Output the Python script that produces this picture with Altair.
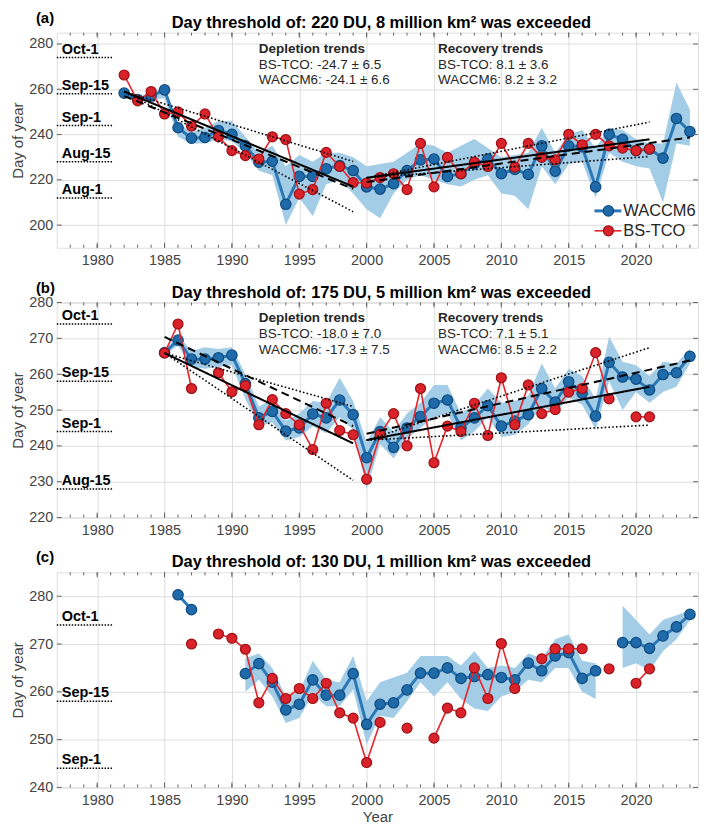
import altair as alt
import pandas as pd

FONT = "Liberation Sans"
W, H = 644, 216

X_TICKS = [1980, 1985, 1990, 1995, 2000, 2005, 2010, 2015, 2020]
MINOR_YEARS = list(range(1978, 2025))

# ---------------- panel (a) ----------------
YEARS_A = list(range(1982, 2025))
WACCM_A = [258.3, 255.5, 257.0, 259.7, 243.0, 238.4, 238.7, 241.8, 240.1, 235.0,
           227.8, 228.2, 209.2, 221.5, 221.5, 224.9, 226.3, 224.1, 216.9, 215.9,
           218.3, 224.1, 228.8, 229.2, 221.5, 222.7, 227.0, 229.2, 222.7, 224.6,
           222.4, 235.0, 223.8, 235.0, 234.6, 216.9, 240.1, 237.9, 232.9, 233.6,
           229.6, 247.1, 241.3]
BSTCO_A = [266.3, 254.9, 259.0, 249.1, 250.0, 243.7, 249.1, 239.0, 232.9, 230.7,
           229.2, 239.0, 237.8, 213.7, 215.7, 232.1, 225.9, 218.8, 218.6, 221.0,
           222.7, 215.7, 236.1, 216.9, 229.9, 222.7, 227.8, 225.9, 236.1, 225.6,
           236.1, 229.9, 228.8, 240.1, 235.5, 240.1, 235.0, 234.0, 232.9, 233.6,
           None, None, None]
LO_A = [257.0, 254.5, 255.5, 256.0, 239.0, 236.0, 236.0, 238.0, 237.0, 232.0,
        224.0, 222.0, 200.0, 212.0, 204.0, 218.0, 220.0, 214.0, 207.0, 203.0,
        214.0, 220.0, 222.0, 220.0, 218.0, 217.0, 220.0, 222.0, 214.0, 213.0,
        207.0, 226.0, 218.0, 227.0, 228.0, 212.0, 232.0, 228.0, 226.0, 225.0,
        210.0, 236.0, 235.0]
HI_A = [259.5, 256.5, 258.5, 261.0, 245.0, 241.0, 243.0, 246.0, 246.0, 239.0,
        232.0, 235.0, 226.0, 231.0, 228.0, 232.0, 232.0, 230.0, 226.0, 227.0,
        228.0, 232.0, 236.0, 235.0, 232.0, 235.0, 238.0, 234.0, 230.0, 231.0,
        232.0, 243.0, 232.0, 240.0, 242.0, 234.0, 243.0, 242.0, 238.0, 236.0,
        236.0, 263.0, 251.0]
# trend segments: style, start year, end year, start value, end value
TREND_STYLE_A = ["solid", "dashed", "dotted", "dotted", "solid", "dashed", "dotted", "dotted"]
TREND_X0_A = [1982, 1982, 1982, 1982, 2000, 2000, 2000, 2000]
TREND_X1_A = [1999, 1999, 1999, 1999, 2021, 2024, 2021, 2021]
TREND_Y0_A = [259.0, 257.0, 259.0, 259.0, 220.9, 219.0, 220.9, 220.9]
TREND_Y1_A = [217.0, 216.0, 228.1, 205.9, 237.9, 238.7, 245.5, 230.3]
DEPL_A = ["Depletion trends", "BS-TCO: -24.7 \u00b1 6.5", "WACCM6: -24.1 \u00b1 6.6"]
RECO_A = ["Recovery trends", "BS-TCO: 8.1 \u00b1 3.6", "WACCM6: 8.2 \u00b1 3.2"]
DATES_A = ["Oct-1", "Sep-15", "Sep-1", "Aug-15", "Aug-1"]
DOY_A = [274, 258, 244, 228, 212]

# ---------------- panel (b) ----------------
YEARS_B = list(range(1985, 2025))
WACCM_B = [266.0, 269.5, 264.2, 264.2, 264.6, 265.3, 257.4, 247.8, 249.6, 244.1,
           245.0, 248.9, 247.8, 252.8, 248.7, 236.7, 244.0, 239.6, 245.0, 248.2,
           251.9, 252.8, 245.0, 247.8, 251.2, 245.5, 246.9, 248.7, 256.0, 252.2,
           257.9, 254.7, 248.3, 263.3, 259.2, 258.6, 255.6, 259.9, 260.4, 265.0]
BSTCO_B = [265.9, 274.0, 256.0, None, 260.4, 255.1, 256.8, 245.9, 252.9, 249.0,
           245.9, 239.0, 251.9, 244.3, 243.1, 230.7, 243.2, 249.0, 240.0, 256.0,
           235.3, 245.5, 244.0, 251.9, 242.9, 259.0, 245.9, 257.0, 249.0, 250.1,
           255.0, 256.0, 266.0, 253.1, None, 248.1, 248.1, None, None, None]
LO_B = [265.3, 268.0, 262.0, 261.5, 262.0, 262.5, 253.0, 245.5, 246.5, 241.5,
        242.5, 245.5, 243.5, 248.0, 244.5, 228.0, 240.5, 236.5, 242.0, 245.0,
        248.0, 249.0, 241.5, 244.0, 248.0, 242.5, 243.0, 246.0, 251.0, 249.0,
        253.5, 251.5, 244.5, 258.0, 250.0, 255.0, 252.0, 255.0, 256.5, 263.0]
HI_B = [266.7, 271.0, 266.5, 267.5, 267.0, 267.5, 260.0, 251.0, 253.0, 247.0,
        249.0, 252.5, 252.0, 259.0, 252.5, 241.0, 248.0, 244.0, 249.0, 252.0,
        257.0, 257.0, 249.0, 251.5, 256.0, 252.0, 252.5, 254.0, 263.0, 256.0,
        261.5, 259.5, 253.0, 270.5, 263.5, 262.5, 259.5, 263.5, 263.0, 267.0]
TREND_STYLE_B = ["solid", "dashed", "dotted", "dotted", "solid", "dashed", "dotted", "dotted"]
TREND_X0_B = [1985, 1985, 1985, 1985, 2000, 2000, 2000, 2000]
TREND_X1_B = [1999, 1999, 1999, 1999, 2021, 2024, 2021, 2021]
TREND_Y0_B = [265.9, 270.4, 265.9, 265.9, 241.6, 243.4, 241.6, 241.6]
TREND_Y1_B = [240.7, 245.5, 251.0, 230.4, 256.5, 263.8, 267.4, 245.8]
DEPL_B = ["Depletion trends", "BS-TCO: -18.0 \u00b1 7.0", "WACCM6: -17.3 \u00b1 7.5"]
RECO_B = ["Recovery trends", "BS-TCO: 7.1 \u00b1 5.1", "WACCM6: 8.5 \u00b1 2.2"]
DATES_B = ["Oct-1", "Sep-15", "Sep-1", "Aug-15"]
DOY_B = [274, 258, 244, 228]

# ---------------- panel (c) ----------------
YEARS_C = list(range(1986, 2025))
WACCM_C = [280.3, 277.2, None, None, None, 263.8, 265.9, 262.0, 256.2, 257.4,
           262.5, 259.3, 259.3, 263.8, 253.2, 257.4, 257.7, 260.4, 263.9, 263.9,
           265.0, 262.8, 263.2, 263.6, 263.0, 262.5, 266.0, 264.4, 267.5, 268.2,
           262.8, 264.4, None, 270.3, 270.3, 269.1, 271.7, 273.6, 276.2]
BSTCO_C = [None, 270.0, None, 272.1, 271.2, 268.9, 257.7, 262.8, 258.6, 260.7,
           258.6, 261.8, 255.6, 254.5, 245.2, 253.6, None, 252.4, None, 250.3,
           256.6, 255.6, 265.0, 258.6, 270.1, 260.7, None, 266.9, 269.0, 269.0,
           269.0, None, 264.8, None, 261.8, 264.8, None, None, None]
LO_C = [None, None, None, None, None, 260.0, 262.5, 259.0, 253.5, 254.5,
        259.5, 257.0, 257.0, 260.5, 249.0, 255.0, 254.5, 258.0, 262.0, 259.0,
        262.0, 258.5, 256.5, 256.0, 259.0, 260.0, 262.5, 262.0, 265.0, 265.0,
        260.0, 258.5, None, 265.0, 266.0, 264.5, 268.5, 271.0, 275.0]
HI_C = [None, None, None, None, None, 267.0, 268.0, 265.0, 259.0, 260.0,
        266.5, 262.5, 262.0, 267.5, 258.0, 262.0, 263.0, 264.0, 267.5, 267.5,
        267.5, 265.5, 268.5, 265.0, 265.5, 265.0, 268.0, 267.0, 271.0, 272.0,
        266.5, 266.0, None, 278.0, 275.0, 272.0, 275.0, 276.0, 277.0]
DATES_C = ["Oct-1", "Sep-15", "Sep-1"]
DOY_C = [274, 258, 244]

LEGEND_LABELS = ["WACCM6", "BS-TCO"]

BLUE_LINE = "#2a78b6"
BLUE_FILL = "#1f6aa8"
BLUE_EDGE = "#0e4a80"
RED_LINE = "#e4262b"
RED_FILL = "#d9222a"
RED_EDGE = "#9c1015"
BAND = "#a3cde6"
AX_GRAY = "#666666"
LBL_GRAY = "#444444"


def runs(years, *cols):
    rows, seg, prev = [], 0, False
    for vals in zip(years, *cols):
        y, rest = vals[0], vals[1:]
        if any(v is None for v in rest):
            if prev:
                seg += 1
            prev = False
            continue
        row = {"year": y, "seg": seg}
        for i, v in enumerate(rest):
            row["v%d" % i] = v
        rows.append(row)
        prev = True
    return pd.DataFrame(rows)


def panel(tag, title, years, waccm, bstco, lo, hi, ydom, yticks, dates, doys,
          trends=None, notes=None, legend=False, xtitle=None):
    xs = alt.Scale(domain=[1977, 2024.6], nice=False, zero=False)
    ys = alt.Scale(domain=ydom, nice=False, zero=False)
    xax = alt.Axis(values=X_TICKS, format="d", grid=True, ticks=False, domain=False,
                   labelFont=FONT, labelFontSize=14.5, labelColor=LBL_GRAY,
                   labelPadding=6, title=xtitle, titleFont=FONT, titleFontSize=15,
                   titleFontWeight="normal", titleColor=LBL_GRAY, titlePadding=3)
    yax = alt.Axis(values=yticks, grid=True, ticks=False, domain=False,
                   labelFont=FONT, labelFontSize=14.5, labelColor=LBL_GRAY,
                   labelPadding=4, title="Day of year", titleFont=FONT,
                   titleFontSize=15, titleFontWeight="normal", titleColor=LBL_GRAY,
                   titlePadding=3)

    def X(f):
        return alt.X(f, type="quantitative", scale=xs, axis=xax)

    def Y(f):
        return alt.Y(f, type="quantitative", scale=ys, axis=yax)

    band_df = runs(years, lo, hi)
    w_df = runs(years, waccm)
    r_df = runs(years, bstco)

    layers = []
    layers.append(alt.Chart(band_df).mark_area(color=BAND, opacity=1).encode(
        x=X("year"), y=Y("v0"), y2=alt.Y2("v1"), detail="seg:N"))
    layers.append(alt.Chart(w_df).mark_line(color=BLUE_LINE, strokeWidth=3).encode(
        x=X("year"), y=Y("v0"), detail="seg:N"))
    layers.append(alt.Chart(w_df).mark_circle(size=110, opacity=1, color=BLUE_FILL,
                                              stroke=BLUE_EDGE, strokeWidth=1.2).encode(
        x=X("year"), y=Y("v0")))
    layers.append(alt.Chart(r_df).mark_line(color=RED_LINE, strokeWidth=1.6).encode(
        x=X("year"), y=Y("v0"), detail="seg:N"))
    layers.append(alt.Chart(r_df).mark_circle(size=100, opacity=1, color=RED_FILL,
                                              stroke=RED_EDGE, strokeWidth=1.2).encode(
        x=X("year"), y=Y("v0")))

    if trends is not None:
        styles, x0, x1, y0, y1 = trends
        rows = []
        for i, s in enumerate(styles):
            rows.append({"seg": i, "style": s, "year": x0[i], "v": y0[i]})
            rows.append({"seg": i, "style": s, "year": x1[i], "v": y1[i]})
        tdf = pd.DataFrame(rows)
        dash = {"solid": [1, 0], "dashed": [8, 5], "dotted": [1.6, 2.2]}
        width = {"solid": 2.0, "dashed": 2.0, "dotted": 1.6}
        for s in ["dotted", "dashed", "solid"]:
            sub = tdf[tdf["style"] == s]
            layers.append(alt.Chart(sub).mark_line(
                color="black", strokeWidth=width[s], strokeDash=dash[s]).encode(
                x=X("year"), y=Y("v"), detail="seg:N"))

    # date reference labels
    ddf = pd.DataFrame({"lab": dates, "doy": doys})
    layers.append(alt.Chart(ddf).mark_rule(color="black", strokeWidth=1.5,
                                           strokeDash=[1.5, 1.5]).encode(
        x=alt.value(0), x2=alt.value(56), y=Y("doy")))
    layers.append(alt.Chart(ddf).mark_text(align="left", baseline="alphabetic",
                                           dx=5, dy=-4, font=FONT, fontSize=14.5,
                                           fontWeight="bold", color="black").encode(
        x=alt.value(0), y=Y("doy"), text="lab:N"))

    if notes is not None:
        for xpos, lines in notes:
            ndf = pd.DataFrame({"t": lines[1:], "x": [xpos] * (len(lines) - 1)})
            hdf = pd.DataFrame({"t": lines[:1], "x": [xpos]})
            layers.append(alt.Chart(hdf).mark_text(
                align="left", baseline="middle", font=FONT, fontSize=13.5,
                fontWeight="bold", color="#262626").encode(
                x=X("x"), y=alt.value(16), text="t:N"))
            for k in range(len(lines) - 1):
                layers.append(alt.Chart(ndf.iloc[[k]]).mark_text(
                    align="left", baseline="middle", font=FONT, fontSize=13.5,
                    color="#262626").encode(
                    x=X("x"), y=alt.value(32 + 15.5 * k), text="t:N"))

    if legend:
        cols = [(BLUE_LINE, BLUE_FILL, BLUE_EDGE, 3, 110), (RED_LINE, RED_FILL, RED_EDGE, 1.6, 100)]
        for k, lab in enumerate(LEGEND_LABELS):
            lc, fc, ec, lw, sz = cols[k]
            ldf = pd.DataFrame({"t": [lab]})
            yy = H - 37 + 20 * k
            layers.append(alt.Chart(ldf).mark_rule(color=lc, strokeWidth=lw).encode(
                x=alt.value(W - 104), x2=alt.value(W - 77), y=alt.value(yy)))
            layers.append(alt.Chart(ldf).mark_circle(size=sz, opacity=1, color=fc,
                                                     stroke=ec, strokeWidth=1.2).encode(
                x=alt.value(W - 90), y=alt.value(yy)))
            layers.append(alt.Chart(ldf).mark_text(
                align="left", baseline="middle", font=FONT, fontSize=16.5,
                color="#262626").encode(
                x=alt.value(W - 75), y=alt.value(yy), text="t:N"))

    # inward ticks (box style)
    mdf = pd.DataFrame({"yr": MINOR_YEARS})
    jdf = pd.DataFrame({"yr": X_TICKS})
    ydf = pd.DataFrame({"v": yticks})
    for dfk, ln in [(mdf, 3), (jdf, 5)]:
        layers.append(alt.Chart(dfk).mark_rule(color=AX_GRAY, strokeWidth=1).encode(
            x=X("yr"), y=alt.value(H), y2=alt.value(H - ln)))
        layers.append(alt.Chart(dfk).mark_rule(color=AX_GRAY, strokeWidth=1).encode(
            x=X("yr"), y=alt.value(0), y2=alt.value(ln)))
    layers.append(alt.Chart(ydf).mark_rule(color=AX_GRAY, strokeWidth=1).encode(
        y=Y("v"), x=alt.value(0), x2=alt.value(5)))
    layers.append(alt.Chart(ydf).mark_rule(color=AX_GRAY, strokeWidth=1).encode(
        y=Y("v"), x=alt.value(W), x2=alt.value(W - 5)))

    # panel tag and title (as text so they sit right above the plot)
    tagdf = pd.DataFrame({"t": [tag]})
    layers.append(alt.Chart(tagdf).mark_text(
        align="left", baseline="middle", font=FONT, fontSize=15,
        fontWeight="bold", color="black").encode(
        x=alt.value(-21), y=alt.value(-15), text="t:N"))
    ttldf = pd.DataFrame({"t": [title]})
    layers.append(alt.Chart(ttldf).mark_text(
        align="center", baseline="alphabetic", font=FONT, fontSize=16.5,
        fontWeight="bold", color="black").encode(
        x=alt.value(W / 2 + 4), y=alt.value(-5), text="t:N"))

    return alt.layer(*layers).properties(width=W, height=H)


pa = panel("(a)", "Day threshold of: 220 DU, 8 million km\u00b2 was exceeded",
           YEARS_A, WACCM_A, BSTCO_A, LO_A, HI_A, [190, 285],
           [200, 220, 240, 260, 280], DATES_A, DOY_A,
           trends=(TREND_STYLE_A, TREND_X0_A, TREND_X1_A, TREND_Y0_A, TREND_Y1_A),
           notes=[(1992.0, DEPL_A), (2005.3, RECO_A)], legend=True)
pb = panel("(b)", "Day threshold of: 175 DU, 5 million km\u00b2 was exceeded",
           YEARS_B, WACCM_B, BSTCO_B, LO_B, HI_B, [220, 280],
           [220, 230, 240, 250, 260, 270, 280], DATES_B, DOY_B,
           trends=(TREND_STYLE_B, TREND_X0_B, TREND_X1_B, TREND_Y0_B, TREND_Y1_B),
           notes=[(1992.0, DEPL_B), (2005.3, RECO_B)])
pc = panel("(c)", "Day threshold of: 130 DU, 1 million km\u00b2 was exceeded",
           YEARS_C, WACCM_C, BSTCO_C, LO_C, HI_C, [240, 285],
           [240, 250, 260, 270, 280], DATES_C, DOY_C, xtitle="Year")

chart = alt.vconcat(pa, pb, pc, spacing=12).properties(
    padding={"left": 2, "top": 0, "right": 2, "bottom": 0}
).configure_view(stroke=AX_GRAY, strokeWidth=1).configure_axis(
    gridColor="#e4e4e4", gridWidth=1
).configure(background="white")

chart.save("out.html", embed_options={"renderer": "svg", "actions": False})
